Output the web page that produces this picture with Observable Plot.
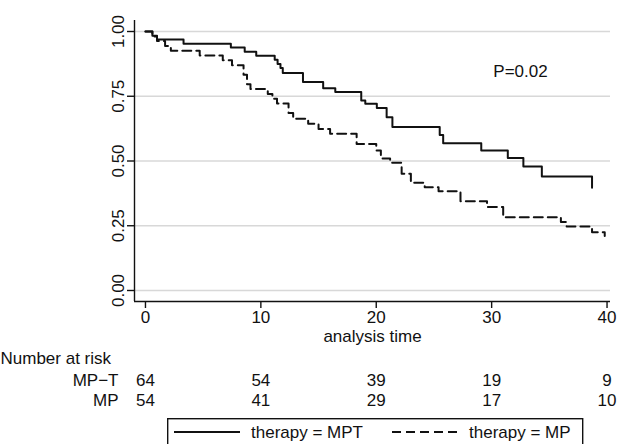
<!DOCTYPE html>
<html><head><meta charset="utf-8">
<script src="https://cdn.jsdelivr.net/npm/d3@7"></script>
<script src="https://cdn.jsdelivr.net/npm/@observablehq/plot@0.6"></script>
<style>
html,body{margin:0;padding:0;background:#fff;}
body{font-family:"Liberation Sans",Arial,Helvetica,sans-serif;color:#111;width:618px;height:444px;overflow:hidden;}
#chart svg{display:block;}
#legend{display:block;margin-left:167px;}
</style></head><body>
<div id="chart"></div>
<svg id="legend" width="417" height="30"></svg>
<script>
// Kaplan-Meier survival estimates
const mptTime = [0, 0.6, 1.0, 3.3, 7.4, 8.6, 9.6, 11.2, 11.45, 11.7, 11.9, 13.65, 15.4, 16.45, 18.7, 19.05, 20.05, 20.9, 21.4, 25.5, 25.8, 29.1, 31.4, 32.75, 34.35, 38.7];
const mptSurv = [1, 0.984, 0.969, 0.953, 0.938, 0.922, 0.906, 0.891, 0.875, 0.859, 0.840, 0.805, 0.781, 0.766, 0.734, 0.721, 0.705, 0.669, 0.631, 0.600, 0.569, 0.541, 0.512, 0.479, 0.440, 0.397];
const mpTime = [0, 0.6, 1.0, 1.7, 2.2, 4.7, 6.7, 7.5, 8.5, 8.8, 9.1, 10.6, 11.0, 11.4, 12.4, 12.8, 14.1, 15.0, 16.0, 18.3, 20.0, 20.4, 21.2, 22.2, 23.0, 24.2, 25.4, 27.3, 29.6, 31.0, 36.0, 36.5, 38.7, 39.8];
const mpSurv = [1, 0.981, 0.963, 0.944, 0.926, 0.907, 0.889, 0.870, 0.833, 0.796, 0.778, 0.759, 0.740, 0.722, 0.685, 0.663, 0.644, 0.624, 0.605, 0.566, 0.541, 0.510, 0.493, 0.451, 0.416, 0.399, 0.383, 0.345, 0.322, 0.283, 0.264, 0.247, 0.225, 0.210];

const xTicks = [0, 10, 20, 30, 40];
const yTicks = [0, 0.25, 0.5, 0.75, 1];
const riskTimes = [0, 10, 20, 30, 40];
const riskMPT = [64, 54, 39, 19, 9];
const riskMP = [54, 41, 29, 17, 10];
const rowLabels = ["MP−T", "MP"];
const riskTitle = "Number at risk";
const xTitle = "analysis time";
const pText = "P=0.02";
const pAt = {t: 32.5, s: 0.845};
const legendLabels = ["therapy = MPT", "therapy = MP"];

const mpt = mptTime.map((t, i) => ({t, s: mptSurv[i]}));
const mp = mpTime.map((t, i) => ({t, s: mpSurv[i]}));

const xDomain = [-0.95, 40.3];
const yDomain = [-0.0425, 1.0425];
const ink = "#111";
const fs = 17;

const chart = Plot.plot({
  width: 618, height: 418,
  marginLeft: 134, marginRight: 8, marginTop: 20, marginBottom: 117,
  x: {domain: xDomain},
  y: {domain: yDomain},
  style: {fontFamily: '"Liberation Sans", Arial, sans-serif', fontSize: fs + "px", color: ink, background: "white", overflow: "visible"},
  marks: [
    Plot.gridY(yTicks, {stroke: "#d8d8d8", strokeOpacity: 1, strokeWidth: 1.4}),
    Plot.ruleX([xDomain[0]], {stroke: ink, strokeWidth: 1.4}),
    Plot.ruleY([yDomain[0]], {stroke: ink, strokeWidth: 1.4}),
    Plot.axisY(yTicks, {tickSize: 7, tickPadding: 4, tickRotate: -90, tickFormat: d3.format(".2f"), label: null, fontSize: fs, strokeWidth: 1.4}),
    Plot.axisX(xTicks, {tickSize: 7, tickPadding: 2, label: null, fontSize: fs, strokeWidth: 1.4}),
    Plot.line(mpt, {x: "t", y: "s", curve: "step-after", stroke: ink, strokeWidth: 2}),
    Plot.line(mp, {x: "t", y: "s", curve: "step-after", stroke: ink, strokeWidth: 2, strokeDasharray: "9,5"}),
    Plot.text([pText], {x: () => pAt.t, y: () => pAt.s, fontSize: fs, fill: ink}),
    Plot.text([xTitle], {frameAnchor: "bottom", dy: 40, fontSize: fs, fill: ink}),
    Plot.text([riskTitle], {frameAnchor: "bottom-left", dx: -134, dy: 62, textAnchor: "start", fontSize: fs, fill: ink}),
    Plot.text([rowLabels[0]], {frameAnchor: "bottom-left", dx: -16, dy: 84, textAnchor: "end", fontSize: fs, fill: ink}),
    Plot.text([rowLabels[1]], {frameAnchor: "bottom-left", dx: -16, dy: 104, textAnchor: "end", fontSize: fs, fill: ink}),
    Plot.text(riskTimes, {x: d => d, text: (d, i) => riskMPT[i], frameAnchor: "bottom", dy: 84, fontSize: fs, fill: ink}),
    Plot.text(riskTimes, {x: d => d, text: (d, i) => riskMP[i], frameAnchor: "bottom", dy: 104, fontSize: fs, fill: ink})
  ]
});
document.getElementById("chart").appendChild(chart);

// legend box
const lg = d3.select("#legend");
lg.append("rect").attr("x", 0.7).attr("y", 0.7).attr("width", 415).attr("height", 40).attr("fill", "none").attr("stroke", ink).attr("stroke-width", 1.4);
lg.append("line").attr("x1", 7).attr("x2", 73).attr("y1", 14).attr("y2", 14).attr("stroke", ink).attr("stroke-width", 2);
lg.append("text").attr("x", 84).attr("y", 14).attr("dy", "0.35em").attr("font-size", fs).attr("fill", ink).text(legendLabels[0]);
lg.append("line").attr("x1", 225).attr("x2", 291).attr("y1", 14).attr("y2", 14).attr("stroke", ink).attr("stroke-width", 2).attr("stroke-dasharray", "9,5");
lg.append("text").attr("x", 302).attr("y", 14).attr("dy", "0.35em").attr("font-size", fs).attr("fill", ink).text(legendLabels[1]);
</script>
</body></html>
